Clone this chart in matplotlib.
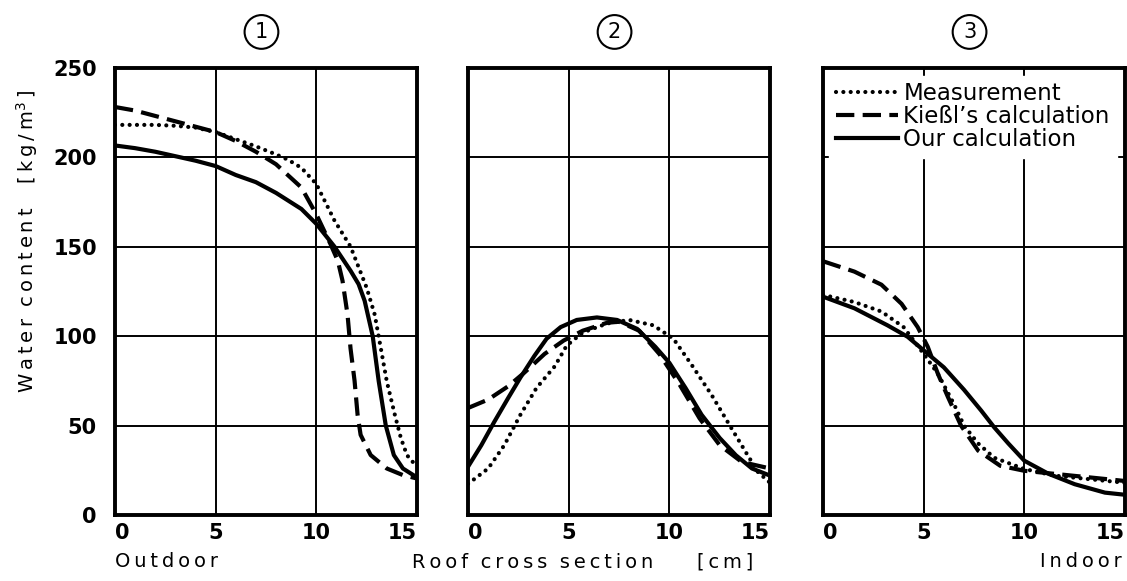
import matplotlib
matplotlib.use("Agg")
import matplotlib.pyplot as plt

# ---- data: water content [kg/m^3] across the roof cross section [cm] ----
# Panel 1
p1_meas_x = [0, 1, 2, 3, 4, 5, 6, 7, 8, 8.6, 9.26, 10, 10.9, 11.7, 12.5, 12.9, 13.2, 13.5, 13.9, 14.2, 14.5, 14.75, 15]
p1_meas_y = [218, 218, 218, 217.5, 216.5, 214, 210, 206, 201.5, 198.5, 194, 185, 164.6, 150, 127, 112, 93.4, 74.7, 56, 43, 33.5, 30, 28]
p1_kiessl_x = [0, 1, 2, 3, 4, 5, 6, 7, 8, 9.26, 10, 10.7, 11.07, 11.3, 11.55, 11.7, 11.9, 12.05, 12.2, 12.7, 13.5, 14.3, 15]
p1_kiessl_y = [228, 226, 223, 220, 217, 214, 209, 203, 196, 183, 168, 151.5, 142, 131, 112, 93, 75, 56, 44.8, 33.5, 26, 22.3, 20.4]
p1_ours_x = [0, 1, 2, 3, 4, 5, 6, 7, 8, 9.26, 10, 10.9, 11.7, 12.1, 12.4, 12.8, 13.1, 13.45, 13.85, 14.3, 15]
p1_ours_y = [206.5, 205, 203, 200.5, 198, 195, 190, 186, 180, 171, 162.7, 150, 136.5, 129, 119.7, 100, 74.7, 50, 33.5, 26, 21]

# Panel 2
p2_meas_x = [0, 1, 1.8, 2.6, 3.4, 4.3, 4.9, 5.7, 6.9, 8.0, 9.2, 10.2, 11.1, 12.1, 13, 13.8, 14.4, 15]
p2_meas_y = [17.4, 26, 39, 56, 71, 83, 94.7, 102, 107, 109, 106, 98.5, 84, 67, 50, 35, 24, 18]
p2_kiessl_x = [0, 1, 2, 2.8, 3.8, 4.75, 5.7, 6.9, 7.5, 8.5, 9.5, 10.5, 11.5, 12.5, 13.6, 15]
p2_kiessl_y = [59.8, 64.5, 72, 79.6, 90, 97.5, 103, 107.4, 108, 103, 90, 73, 54, 39, 29.6, 26]
p2_ours_x = [0, 0.66, 1.3, 2.0, 2.6, 3.3, 3.9, 4.6, 5.4, 6.4, 7.4, 8.4, 9.3, 10, 10.8, 11.6, 12.5, 13.3, 14.1, 15]
p2_ours_y = [27, 39, 52, 65.5, 76.8, 89, 98.5, 105, 109, 110.4, 109, 104, 94, 85, 71, 56, 43, 33.4, 26, 22]

# Panel 3
p3_meas_x = [0, 1.56, 2.9, 4.0, 5.0, 5.7, 6.5, 7.0, 7.7, 8.5, 10.0, 11.5, 15]
p3_meas_y = [123, 119, 113.7, 105, 90, 79, 62, 50, 40, 32, 25.7, 22, 18]
p3_kiessl_x = [0, 1.56, 2.9, 3.9, 4.7, 5.2, 5.7, 6.2, 6.85, 7.7, 8.8, 10, 11.5, 15]
p3_kiessl_y = [141.8, 136, 128.7, 118, 105, 94, 79, 66, 50, 36, 27.5, 24.7, 23, 19]
p3_ours_x = [0, 1.56, 3.2, 4.2, 5.0, 6.0, 7.0, 7.85, 8.5, 9.2, 10.0, 11.2, 12.5, 14.0, 15]
p3_ours_y = [122, 115.5, 106, 99.6, 92, 82.5, 70, 58.4, 49, 40, 30.3, 23, 17.2, 12.5, 11.3]

panel_labels = ["1", "2", "3"]
series_names = ["Measurement", "Kie\u00dfl\u2019s calculation", "Our calculation"]
x_ticks = [0, 5, 10, 15]
y_ticks = [0, 50, 100, 150, 200, 250]

panels = [
    (p1_meas_x, p1_meas_y, p1_kiessl_x, p1_kiessl_y, p1_ours_x, p1_ours_y),
    (p2_meas_x, p2_meas_y, p2_kiessl_x, p2_kiessl_y, p2_ours_x, p2_ours_y),
    (p3_meas_x, p3_meas_y, p3_kiessl_x, p3_kiessl_y, p3_ours_x, p3_ours_y),
]

plt.rcParams["font.family"] = ["DejaVu Sans"]
THIN = "\u2009"


def spaced(word):
    """Spread the letters of a word with thin spaces."""
    return THIN.join(word)


fig = plt.figure(figsize=(11.27, 5.81), dpi=100)
lefts = [0.102, 0.4153, 0.7303]
bottom, width, height = 0.1136, 0.268, 0.770

dot_style = dict(color="black", lw=3.0, linestyle=(0, (0.01, 1.75)),
                 dash_capstyle="round", solid_capstyle="round")
dash_style = dict(color="black", lw=3.0, linestyle=(0, (4.4, 2.0)),
                  dash_capstyle="butt")
solid_style = dict(color="black", lw=3.0, linestyle="-")

axes = []
for i, (left, data) in enumerate(zip(lefts, panels)):
    ax = fig.add_axes([left, bottom, width, height])
    axes.append(ax)
    mx, my, kx, ky, ox, oy = data
    ax.plot(mx, my, label=series_names[0], **dot_style)
    ax.plot(kx, ky, label=series_names[1], **dash_style)
    ax.plot(ox, oy, label=series_names[2], **solid_style)

    ax.set_xlim(0, 15)
    ax.set_ylim(0, 250)
    ax.set_xticks(x_ticks)
    ax.set_yticks(y_ticks)
    ax.grid(True, color="black", lw=1.4)
    ax.set_axisbelow(True)
    for sp in ax.spines.values():
        sp.set_linewidth(2.8)
        sp.set_color("black")
    ax.tick_params(length=0, labelsize=15, pad=6)
    xl = ax.set_xticklabels([str(t) for t in x_ticks], fontweight="bold")
    xl[0].set_ha("left")
    xl[-1].set_ha("right")
    if i == 0:
        ax.set_yticklabels([str(t) for t in y_ticks], fontweight="bold")
        ax.tick_params(axis="y", pad=13)
    else:
        ax.set_yticklabels([])

    # circled panel number above each panel
    fig.text(left + width / 2 - 0.004, 0.945, panel_labels[i], ha="center", va="center",
             fontsize=15, color="black",
             bbox=dict(boxstyle="circle,pad=0.33", fc="white", ec="black", lw=1.5))

leg = axes[2].legend(loc="upper left", bbox_to_anchor=(0.0, 0.995), frameon=True,
                     fontsize=16.5, handlelength=2.7, handletextpad=0.25,
                     labelspacing=0.0, borderpad=0.3, borderaxespad=0.25,
                     fancybox=False)
leg.get_frame().set_facecolor("white")
leg.get_frame().set_edgecolor("white")
leg.get_frame().set_alpha(1.0)

ylabel = (spaced("Water") + "  " + spaced("content") + "    " + "[" + THIN + spaced("kg")
          + THIN + "/" + THIN + "m$^{3}$" + THIN + "]")
fig.text(0.024, 0.585, ylabel, rotation=90, ha="center", va="center", fontsize=14)

fig.text(0.102, 0.033, spaced("Outdoor"), ha="left", va="center", fontsize=14)
fig.text(0.3655, 0.033,
         spaced("Roof") + "  " + spaced("cross") + "  " + spaced("section")
         + "       [" + THIN + spaced("cm") + THIN + "]",
         ha="left", va="center", fontsize=14)
fig.text(0.995, 0.033, spaced("Indoor"), ha="right", va="center", fontsize=14)

fig.savefig("out.png", dpi=100, facecolor="white")
